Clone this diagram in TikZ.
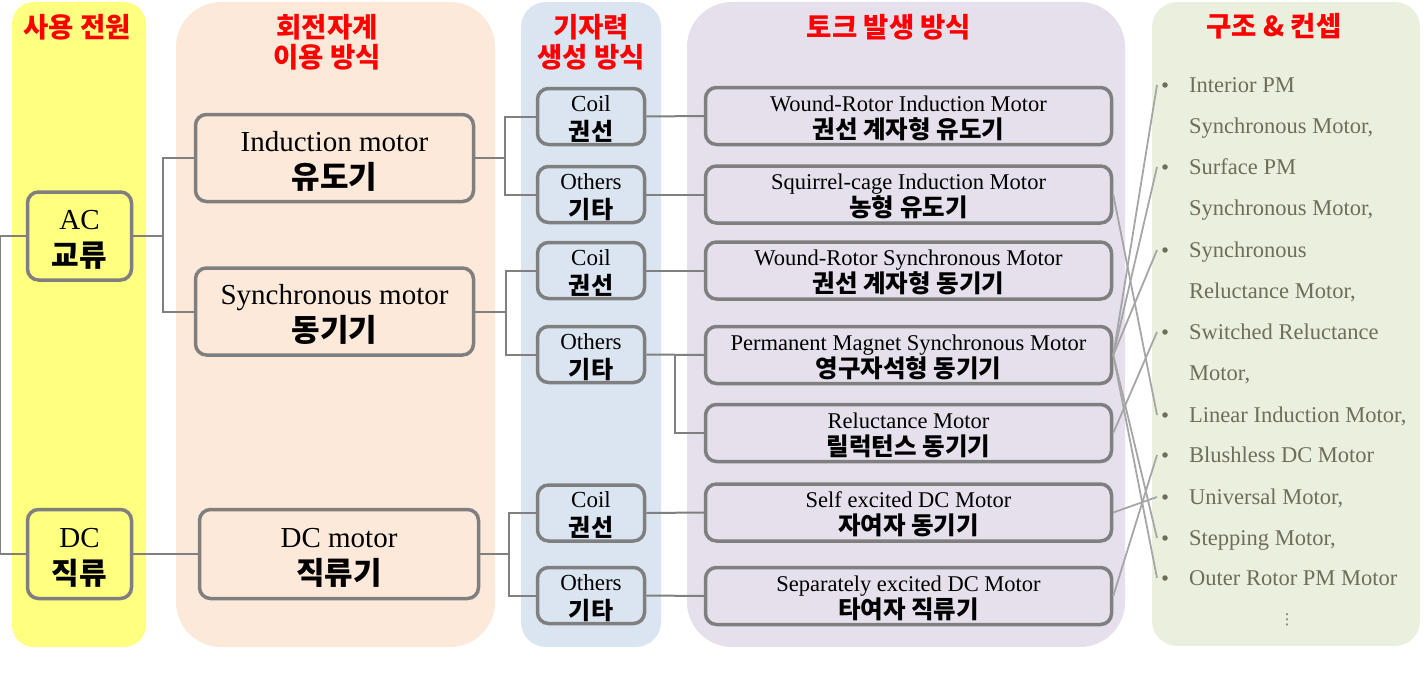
\documentclass[tikz,border=0pt]{standalone}
\usepackage{fontspec}
\setmainfont{Liberation Serif}
\newfontfamily\kr{Noto Sans CJK KR}
\newfontfamily\dvs{DejaVu Sans}
\definecolor{colY}{HTML}{FFFF80}
\definecolor{colP}{HTML}{FDE9D9}
\definecolor{colB}{HTML}{DBE5F1}
\definecolor{colL}{HTML}{E5E0EC}
\definecolor{colG}{HTML}{EBF0DE}
\definecolor{boxgray}{HTML}{7F7F7F}
\definecolor{linegray}{HTML}{808080}
\definecolor{xgray}{HTML}{A6A6A6}
\definecolor{btext}{HTML}{6E6D5A}
\newcommand\krL[1]{{\kr\bfseries\fontsize{31}{37}\selectfont #1}}
\newcommand\krA[1]{{\kr\bfseries\fontsize{30}{37}\selectfont #1}}
\newcommand\krM[1]{{\kr\bfseries\fontsize{24}{29}\selectfont #1}}
\newcommand\krS[1]{{\kr\bfseries\fontsize{24.5}{27}\selectfont #1}}
\newcommand\stru{\rule{0pt}{0.9em}}
\begin{document}
\begin{tikzpicture}[x=1pt,y=-1pt,
  ttl/.style={font=\kr\bfseries\fontsize{27.5}{30}\selectfont, text=red, inner sep=0pt, align=center},
  mbox/.style={draw=boxgray, line width=3.5pt, rounded corners=11pt, inner sep=0pt, align=center},
  bigbox/.style={mbox, font=\fontsize{29}{37}\selectfont},
  midbox/.style={mbox, minimum width=107pt, minimum height=56pt, font=\fontsize{23}{29}\selectfont},
  tqbox/.style={mbox, minimum width=406pt, minimum height=57pt, font=\fontsize{22.5}{27}\selectfont},
  conn/.style={draw=linegray, line width=2pt},
  xconn/.style={draw=xgray, line width=1.8pt},
  bdot/.style={circle, fill=btext, inner sep=0pt, minimum size=5.5pt},
  btxt/.style={anchor=base west, inner sep=0pt, text=btext, font=\fontsize{22.5}{27}\selectfont}
]
\useasboundingbox (0,0) rectangle (1427,693);
% column backgrounds
\fill[colY, rounded corners=22pt] (12,2) rectangle (146,647);
\fill[colP, rounded corners=45pt] (176,2) rectangle (495,647);
\fill[colB, rounded corners=25pt] (521,2) rectangle (661,647);
\fill[colL, rounded corners=45pt] (687,2) rectangle (1125,647);
\fill[colG, rounded corners=25pt] (1152,2) rectangle (1420,646);
% titles
\node[ttl] (t1) at (77,27) {사용 전원};
\node[ttl] (t2) at (327,42) {회전자계\\이용 방식};
\node[ttl] (t3) at (591,42) {기자력\\생성 방식};
\node[ttl] (t4) at (889,27) {토크 발생 방식};
\node[ttl] (t5) at (1274,26) {구조 \& 컨셉};
% source boxes
\node[bigbox, minimum width=104pt, minimum height=88pt] (ac) at (79.5,236) {\stru AC\\\krA{교류}};
\node[bigbox, minimum width=104pt, minimum height=89pt] (dc) at (79.5,554) {\stru DC\\\krA{직류}};
% motor type boxes
\node[bigbox, minimum width=278pt, minimum height=87pt] (ind) at (334.5,158) {\stru Induction motor\\\krL{유도기}};
\node[bigbox, minimum width=278pt, minimum height=87pt] (syn) at (334.5,311.5) {\stru Synchronous motor\\\krL{동기기}};
\node[bigbox, minimum width=279pt, minimum height=89pt] (dcm) at (339,554) {\stru DC motor\\\krL{직류기}};
% mmf boxes
\node[midbox] (c1) at (591,116.5) {\stru Coil\\\krM{권선}};
\node[midbox] (o1) at (591,194.5) {\stru Others\\\krM{기타}};
\node[midbox] (c2) at (591,270.5) {\stru Coil\\\krM{권선}};
\node[midbox] (o2) at (591,354.5) {\stru Others\\\krM{기타}};
\node[midbox] (c3) at (591,513) {\stru Coil\\\krM{권선}};
\node[midbox] (o3) at (591,595.5) {\stru Others\\\krM{기타}};
% torque boxes
\node[tqbox] (wrim) at (908.5,116) {\stru Wound-Rotor Induction Motor\\\krS{권선 계자형 유도기}};
\node[tqbox] (scim) at (908.5,194.5) {\stru Squirrel-cage Induction Motor\\\krS{농형 유도기}};
\node[tqbox] (wrsm) at (908.5,270.5) {\stru Wound-Rotor Synchronous Motor\\\krS{권선 계자형 동기기}};
\node[tqbox] (pmsm) at (908.5,355) {\stru Permanent Magnet Synchronous Motor\\\krS{영구자석형 동기기}};
\node[tqbox] (rm) at (908.5,433) {\stru Reluctance Motor\\\krS{릴럭턴스 동기기}};
\node[tqbox] (sedc) at (908.5,512.5) {\stru Self excited DC Motor\\\krS{자여자 동기기}};
\node[tqbox] (sepdc) at (908.5,596) {\stru Separately excited DC Motor\\\krS{타여자 직류기}};
% tree connectors
\draw[conn] (ac.west) -- ++(-25.5,0) |- (dc.west);
\coordinate (j1) at (163,236);
\draw[conn] (ac.east) -- (j1);
\draw[conn] (j1) |- (ind.west);
\draw[conn] (j1) |- (syn.west);
\draw[conn] (dc.east) -- (dcm.west);
\coordinate (j2) at (505,158);
\draw[conn] (ind.east) -- (j2);
\draw[conn] (j2) |- (c1.west);
\draw[conn] (j2) |- (o1.west);
\coordinate (j3) at (506,311.5);
\draw[conn] (syn.east) -- (j3);
\draw[conn] (j3) |- (c2.west);
\draw[conn] (j3) |- (o2.west);
\coordinate (j4) at (509,554);
\draw[conn] (dcm.east) -- (j4);
\draw[conn] (j4) |- (c3.west);
\draw[conn] (j4) |- (o3.west);
\draw[conn] (c1.east) -- (wrim.west);
\draw[conn] (o1.east) -- (scim.west);
\draw[conn] (c2.east) -- (wrsm.west);
\draw[conn] (o2.east) -- (pmsm.west);
\coordinate (j5) at (675,355);
\draw[conn] (j5) |- (rm.west);
\draw[conn] (c3.east) -- (sedc.west);
\draw[conn] (o3.east) -- (sepdc.west);
% bullet list
\foreach \i/\y in {1/85,3/167,5/250,7/332,9/415,10/455,11/497,12/538,13/578}{
  \node[bdot] (d\i) at (1165,\y) {};
  \coordinate (e\i) at (1157,\y);
}
\node[btxt] (l1) at (1189,92.5) {Interior PM};
\node[btxt] (l2) at (1189,133.5) {Synchronous Motor,};
\node[btxt] (l3) at (1189,174.5) {Surface PM};
\node[btxt] (l4) at (1189,215.5) {Synchronous Motor,};
\node[btxt] (l5) at (1189,257.5) {Synchronous};
\node[btxt] (l6) at (1189,298.5) {Reluctance Motor,};
\node[btxt] (l7) at (1189,339.5) {Switched Reluctance};
\node[btxt] (l8) at (1189,380.5) {Motor,};
\node[btxt] (l9) at (1189,422.5) {Linear Induction Motor,};
\node[btxt] (l10) at (1189,462.5) {Blushless DC Motor};
\node[btxt] (l11) at (1189,504.5) {Universal Motor,};
\node[btxt] (l12) at (1189,545.5) {Stepping Motor,};
\node[btxt] (l13) at (1189,585.5) {Outer Rotor PM Motor};
\node[text=btext, inner sep=0pt, font=\dvs\fontsize{15}{15}\selectfont] (l14) at (1287,620) {⋮};
% cross connectors
\draw[xconn] (scim.east) -- (e9);
\draw[xconn] (pmsm.east) -- (e1);
\draw[xconn] (pmsm.east) -- (e3);
\draw[xconn] (pmsm.east) -- (e5);
\draw[xconn] (pmsm.east) -- (e12);
\draw[xconn] (pmsm.east) -- (e13);
\draw[xconn] (rm.east) -- (e7);
\draw[xconn] (sedc.east) -- (e11);
\draw[xconn] (sepdc.east) -- (e10);
\end{tikzpicture}
\end{document}
